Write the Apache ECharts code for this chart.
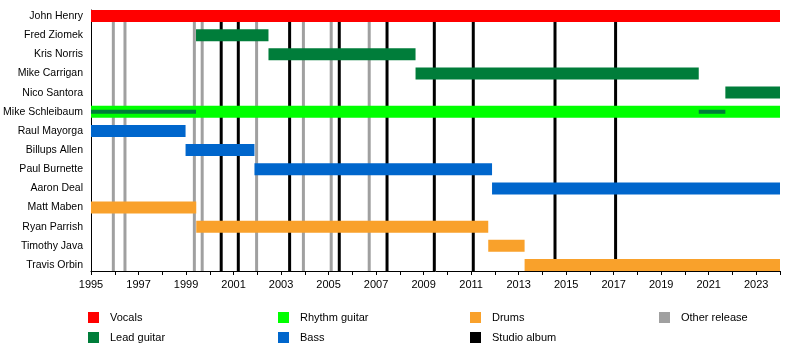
<!DOCTYPE html>
<html><head><meta charset="utf-8">
<script src="https://cdn.jsdelivr.net/npm/echarts@6/dist/echarts.min.js"></script>
<style>html,body{margin:0;padding:0;background:#fff}#c{width:800px;height:360px}</style>
</head><body><div id="c"></div>
<script>
const members = ['John Henry','Fred Ziomek','Kris Norris','Mike Carrigan','Nico Santora','Mike Schleibaum','Raul Mayorga','Billups Allen','Paul Burnette','Aaron Deal','Matt Maben','Ryan Parrish','Timothy Java','Travis Orbin'];
const vocals = [['John Henry', 1995, 2024]];
const leadGuitar = [['Fred Ziomek',1999.42,2002.47],['Kris Norris',2002.47,2008.66],['Mike Carrigan',2008.66,2020.58],['Nico Santora',2021.70,2024]];
const leadGuitarSecondary = [['Mike Schleibaum',1995,1999.42],['Mike Schleibaum',2020.58,2021.70]];
const rhythmGuitar = [['Mike Schleibaum',1995,2024]];
const bass = [['Raul Mayorga',1995,1998.98],['Billups Allen',1998.98,2001.88],['Paul Burnette',2001.88,2011.88],['Aaron Deal',2011.88,2024]];
const drums = [['Matt Maben',1995,1999.43],['Ryan Parrish',1999.43,2011.72],['Timothy Java',2011.72,2013.25],['Travis Orbin',2013.25,2024]];
const otherReleases = [1995.94,1996.43,1999.35,1999.68,2001.97,2003.94,2005.11,2006.71];
const studioAlbums = [2000.48,2001.20,2003.36,2005.45,2007.46,2009.45,2011.09,2014.53,2017.08];
const yearMin = 1995, yearMax = 2024;

const FONT = 'Liberation Sans, Arial, sans-serif';
function toRows(arr){ return arr.map(r => [members.indexOf(r[0]), r[1], r[2]]); }
function barRenderer(h){
  return function(params, api){
    const y = api.value(0);
    const p0 = api.coord([api.value(1), y]);
    const p1 = api.coord([api.value(2), y]);
    return {type:'rect', shape:{x:p0[0], y:p0[1]-h/2, width:p1[0]-p0[0], height:h}, style:{fill: api.visual('color')}};
  };
}
function lineRenderer(params, api){
  const cs = params.coordSys;
  const p = api.coord([api.value(0), 0]);
  return {type:'line', shape:{x1:p[0], y1:cs.y, x2:p[0], y2:cs.y+cs.height}, style:{stroke: api.visual('color'), lineWidth:3}};
}
function barSeries(name, data, color, h){
  return {type:'custom', name:name, data:toRows(data), encode:{x:[1,2], y:0}, renderItem:barRenderer(h), itemStyle:{color:color}, z:3, silent:true};
}
function lineSeries(name, data, color){
  return {type:'custom', name:name, data:data.map(v=>[v,0]), encode:{x:0, y:1}, renderItem:lineRenderer, itemStyle:{color:color}, z:1, silent:true};
}
const colors = {vocals:'#ff0000', lead:'#007d3a', rhythm:'#00ff00', bass:'#0066cc', drums:'#f9a12b', studio:'#000000', other:'#a0a0a0'};

const legendBase = {orient:'vertical', top:312, itemWidth:11, itemHeight:11, itemGap:9, icon:'rect', padding:0,
  textStyle:{fontSize:11, color:'#000', fontFamily:FONT, padding:[0,0,0,6]}, selectedMode:false};

const chart = echarts.init(document.getElementById('c'), null, {renderer:'canvas'});
chart.setOption({
  animation:false,
  backgroundColor:'#fff',
  grid:{left:91, right:20, top:10, bottom:89, containLabel:false, outerBoundsMode:'none'},
  xAxis:{type:'value', min:yearMin, max:yearMax, interval:1,
    axisLine:{show:true, onZero:false, lineStyle:{color:'#000', width:1}},
    axisTick:{show:true, length:4, lineStyle:{color:'#000'}},
    splitLine:{show:false},
    axisLabel:{margin:8, fontSize:11, color:'#000', fontFamily:FONT,
      formatter: v => ((v - yearMin) % 2 === 0 && v < yearMax) ? String(v) : ''}},
  yAxis:{type:'value', inverse:true, min:-0.3125, max:members.length-1+0.3125,
    axisLine:{show:true, onZero:false, lineStyle:{color:'#000', width:1}},
    axisTick:{show:false}, splitLine:{show:false},
    axisLabel:{customValues: members.map((m,i)=>i), margin:8, fontSize:10.5, color:'#000', fontFamily:FONT,
      formatter: v => members[v] || ''}},
  legend:[
    Object.assign({}, legendBase, {left:88, data:['Vocals','Lead guitar']}),
    Object.assign({}, legendBase, {left:278, data:['Rhythm guitar','Bass']}),
    Object.assign({}, legendBase, {left:470, data:['Drums','Studio album']}),
    Object.assign({}, legendBase, {left:659, data:['Other release']})
  ],
  series:[
    lineSeries('Other release', otherReleases, colors.other),
    lineSeries('Studio album', studioAlbums, colors.studio),
    barSeries('Vocals', vocals, colors.vocals, 12),
    barSeries('Lead guitar', leadGuitar, colors.lead, 12),
    barSeries('Rhythm guitar', rhythmGuitar, colors.rhythm, 12),
    Object.assign(barSeries('Lead guitar', leadGuitarSecondary, colors.lead, 4), {z:4}),
    barSeries('Bass', bass, colors.bass, 12),
    barSeries('Drums', drums, colors.drums, 12)
  ]
});
</script></body></html>
